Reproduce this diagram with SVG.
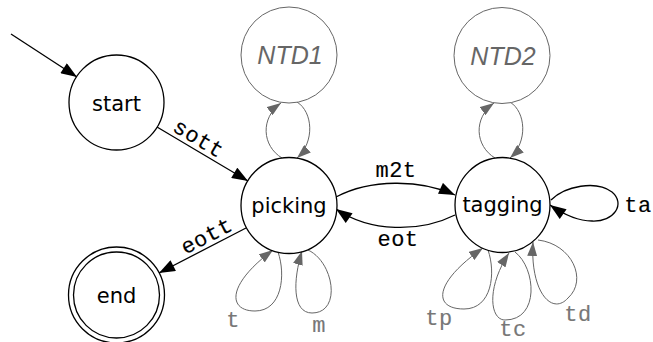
<svg xmlns="http://www.w3.org/2000/svg" width="653" height="342" viewBox="0 0 653 342">
<style>
.node{fill:#fff;stroke:#000;stroke-width:1.3}
.nt{fill:#fff;stroke:#666;stroke-width:1}
.lbl{font-family:"DejaVu Sans",sans-serif;font-size:21px;fill:#000;text-anchor:middle}
.ntl{font-family:"Liberation Sans",Arial,sans-serif;font-style:italic;font-size:25px;fill:#666;text-anchor:middle}
.e{fill:none;stroke:#000;stroke-width:1.3}
.g{fill:none;stroke:#666;stroke-width:1}
.el{font-family:"Liberation Mono","Courier New",monospace;font-size:22px;fill:#000;stroke:#000;stroke-width:0.15;letter-spacing:0.5px;text-anchor:middle}
.gl{font-family:"Liberation Mono","Courier New",monospace;font-size:22px;fill:#777;stroke:#777;stroke-width:0.15;letter-spacing:0.5px;text-anchor:middle}
</style>
<defs>
<marker id="ah" markerUnits="userSpaceOnUse" markerWidth="17" markerHeight="12" refX="16" refY="6" orient="auto" viewBox="0 0 16 12"><path d="M0,0 L16,6 L0,12 z" fill="#000"/></marker>
<marker id="ahg" markerUnits="userSpaceOnUse" markerWidth="14" markerHeight="10" refX="14" refY="5" orient="auto" viewBox="0 0 14 10"><path d="M0,0 L14,5 L0,10 z" fill="#666"/></marker>
</defs>
<rect width="653" height="342" fill="#fff"/>
<g id="connectors">
<path class="e" d="M11,34 L77,77" marker-end="url(#ah)"/>
<path class="e" d="M157,127 L248,181" marker-end="url(#ah)"/>
<path class="e" d="M246,228 L159,273" marker-end="url(#ah)"/>
<path class="e" d="M336,197 C370,179 420,179 455,195" marker-end="url(#ah)"/>
<path class="e" d="M455,215 C420,232.5 370,232.5 336,209" marker-end="url(#ah)"/>
<path class="e" d="M551,200 C565,186 596,180 612,192 C626,204 614,222 592,221 C578,221 563,214 550,205" marker-end="url(#ah)"/>
<path class="g" d="M282,158 C262,146 260,118 281,103" marker-end="url(#ahg)"/>
<path class="g" d="M297,102 C313,112 315,142 297,158" marker-end="url(#ahg)"/>
<path class="g" d="M495,158 C475,146 473,118 494,103" marker-end="url(#ahg)"/>
<path class="g" d="M510,102 C526,112 528,142 510,158" marker-end="url(#ahg)"/>
<path class="g" d="M278,252 C286,275 282,311 255,311 C228,311 226,285 273,250" marker-end="url(#ahg)"/>
<path class="g" d="M308,250 C334,262 342,313 312,313 C292,313 293,280 302,251" marker-end="url(#ahg)"/>
<path class="g" d="M488,250 C496,273 492,309 464,309 C433,309 433,283 483,248" marker-end="url(#ahg)"/>
<path class="g" d="M515,252 C536,268 540,320 505,320 C490,320 486,288 509,253" marker-end="url(#ahg)"/>
<path class="g" d="M538,240 C572,244 588,280 568,298 C552,316 530,292 533,242" marker-end="url(#ahg)"/>
<text class="el" transform="translate(193,148) rotate(30.8)" y="-4">sott</text>
<text class="el" transform="translate(211.6,245.7) rotate(-27.4)" y="-4">eott</text>
<text class="el" x="396" y="177">m2t</text>
<text class="el" x="398" y="246">eot</text>
<text class="el" x="638" y="212">ta</text>
<text class="gl" x="233" y="327">t</text>
<text class="gl" x="319" y="332">m</text>
<text class="gl" x="439" y="325">tp</text>
<text class="gl" x="513" y="336">tc</text>
<text class="gl" x="578" y="321">td</text>
</g>
<g id="start"><circle class="node" cx="116.5" cy="102.5" r="47.5"/><text class="lbl" x="116.5" y="110.5">start</text></g>
<g id="picking"><circle class="node" cx="289" cy="205.5" r="48"/><text class="lbl" x="289" y="212.5">picking</text></g>
<g id="tagging"><circle class="node" cx="502.5" cy="205" r="47.5"/><text class="lbl" x="502.5" y="212">tagging</text></g>
<g id="end"><circle class="node" cx="116.5" cy="295" r="48"/><circle class="node" cx="116.5" cy="295" r="43" fill="none"/><text class="lbl" x="116.5" y="303">end</text></g>
<g id="NTD1"><circle class="nt" cx="289" cy="55" r="48"/><text class="ntl" x="290" y="64">NTD1</text></g>
<g id="NTD2"><circle class="nt" cx="502" cy="55.5" r="48"/><text class="ntl" x="503" y="64.5">NTD2</text></g>
</svg>
